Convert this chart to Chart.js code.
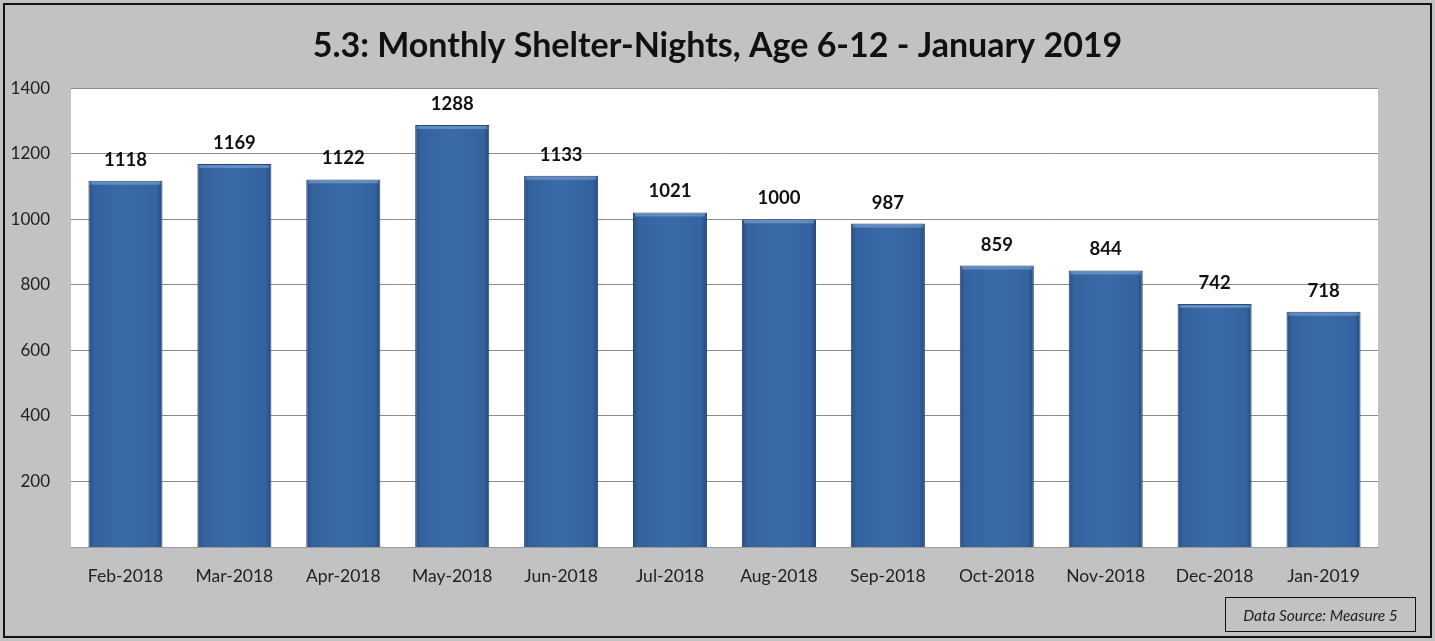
<!DOCTYPE html>
<html>
<head>
<meta charset="utf-8">
<script src="https://cdn.jsdelivr.net/npm/chart.js@4.4.1/dist/chart.umd.min.js"></script>
<style>
  html, body { margin: 0; padding: 0; background: #c0c0c0; }
  #wrap { position: relative; width: 1435px; height: 641px; }
  #c { display: block; }
  #src {
    position: absolute; left: 1225px; top: 597px; width: 191px; height: 35px;
    border: 1.5px solid #111; box-sizing: border-box;
    font: italic 15.5px "Lato", "Open Sans", sans-serif; color: #222;
    display: flex; align-items: center; justify-content: center;
  }
</style>
</head>
<body>
<div id="wrap">
  <canvas id="c" width="1435" height="641"></canvas>
  <div id="src">Data Source: Measure 5</div>
</div>
<script>
const categories = ["Feb-2018","Mar-2018","Apr-2018","May-2018","Jun-2018","Jul-2018","Aug-2018","Sep-2018","Oct-2018","Nov-2018","Dec-2018","Jan-2019"];
const shelterNights = [1118,1169,1122,1288,1133,1021,1000,987,859,844,742,718];
const yTicks = [200,400,600,800,1000,1200,1400];
const titleText = "5.3: Monthly Shelter-Nights, Age 6-12 - January 2019";

const FONT = '"Lato", "Open Sans", sans-serif';
const BAR_PCT = 0.68;

const bgPlugin = {
  id: 'bg',
  beforeDraw(chart) {
    const { ctx, chartArea: a, width, height } = chart;
    ctx.save();
    ctx.fillStyle = '#c2c2c2';
    ctx.fillRect(0, 0, width, height);
    ctx.fillStyle = '#ffffff';
    ctx.fillRect(a.left, a.top, a.right - a.left, a.bottom - a.top);
    ctx.strokeStyle = '#111';
    ctx.lineWidth = 2;
    ctx.strokeRect(4, 4, width - 8, height - 8);
    ctx.restore();
  }
};

const labelPlugin = {
  id: 'vals',
  afterDatasetsDraw(chart) {
    const { ctx } = chart;
    const meta = chart.getDatasetMeta(0);
    ctx.save();
    meta.data.forEach((el) => {
      const w = el.width;
      ctx.fillStyle = 'rgba(150,185,230,0.45)';
      ctx.fillRect(el.x - w / 2 + 2, el.y + 1, w - 4, 3);
    });
    ctx.font = 'bold 18.5px ' + FONT;
    ctx.fillStyle = '#111';
    ctx.textAlign = 'center';
    ctx.textBaseline = 'middle';
    meta.data.forEach((el, i) => {
      ctx.fillText(String(shelterNights[i]), el.x, el.y - 21);
    });
    ctx.restore();
  }
};

function barFill(context) {
  const chart = context.chart;
  const area = chart.chartArea;
  if (!area) return '#3a68a6';
  const xs = chart.scales.x;
  const cx = xs.getPixelForValue(context.dataIndex);
  const w = (area.right - area.left) / categories.length * BAR_PCT;
  const g = chart.ctx.createLinearGradient(cx - w / 2, 0, cx + w / 2, 0);
  g.addColorStop(0, '#2a4f82');
  g.addColorStop(0.08, '#3463a0');
  g.addColorStop(0.5, '#3b6aa8');
  g.addColorStop(0.92, '#3463a0');
  g.addColorStop(1, '#264a7a');
  return g;
}

new Chart(document.getElementById('c'), {
  type: 'bar',
  data: {
    labels: categories,
    datasets: [{
      data: shelterNights,
      backgroundColor: barFill,
      borderColor: '#24477a',
      borderWidth: 1,
      categoryPercentage: BAR_PCT,
      barPercentage: 1
    }]
  },
  options: {
    responsive: false,
    animation: false,
    layout: { padding: 0 },
    plugins: {
      legend: { display: false },
      tooltip: { enabled: false },
      title: {
        display: true,
        text: titleText,
        color: '#111',
        font: { family: FONT, size: 34, weight: 'bold', lineHeight: 1.2 },
        padding: { top: 26, bottom: 21.5 }
      }
    },
    scales: {
      x: {
        grid: { display: false, drawTicks: false },
        border: { display: true, color: '#999', width: 1 },
        ticks: { color: '#222', font: { family: FONT, size: 17.5 }, padding: 19, maxRotation: 0 },
        afterFit(s) { s.height = 94; }
      },
      y: {
        min: 0, max: 1400,
        afterBuildTicks(s) { s.ticks = yTicks.map(v => ({ value: v })); },
        grid: { color: '#8c8c8c', lineWidth: 1, drawTicks: false },
        border: { display: false },
        ticks: { color: '#222', font: { family: FONT, size: 17 }, padding: 21, callback: (v) => String(v) },
        afterFit(s) { s.width = 71; }
      },
      yRight: {
        position: 'right',
        min: 0, max: 1400,
        grid: { display: false, drawTicks: false },
        border: { display: false },
        ticks: { display: false },
        afterFit(s) { s.width = 57; }
      }
    }
  },
  plugins: [bgPlugin, labelPlugin]
});
</script>
</body>
</html>
